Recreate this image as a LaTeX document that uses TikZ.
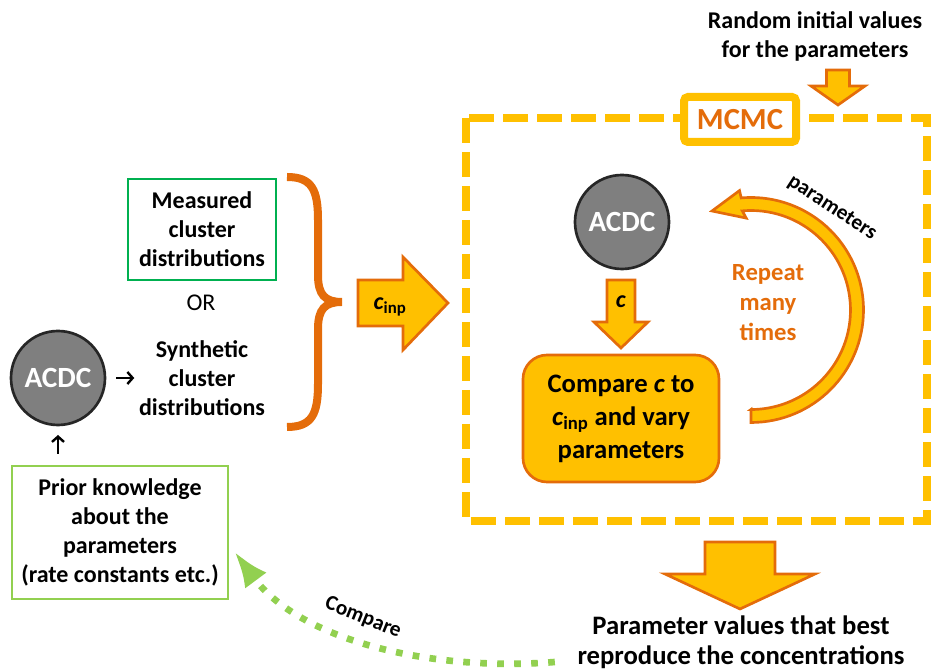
\documentclass[tikz,border=0pt]{standalone}
\usepackage{fontspec}
\setmainfont{Carlito}
\usetikzlibrary{arrows.meta, positioning}

\definecolor{mcmcyellow}{HTML}{FFC000}
\definecolor{darkorange}{HTML}{E46C0A}
\definecolor{measgreen}{HTML}{00B050}
\definecolor{priorgreen}{HTML}{92D050}
\definecolor{acdcgray}{HTML}{7F7F7F}
\definecolor{acdcborder}{HTML}{262626}

\begin{document}
\begin{tikzpicture}[x=0.75pt, y=0.75pt,
    txt/.style={font=\fontsize{18}{21.75}\selectfont\bfseries, align=center},
    acdc/.style={circle, draw=acdcborder, line width=2pt, fill=acdcgray, text=white,
      minimum size=70.5pt, inner sep=0pt, font=\fontsize{22}{26}\selectfont\bfseries},
    inbox/.style={txt, draw, line width=2pt, inner sep=0pt},
    blockarr/.style={fill=mcmcyellow, draw=darkorange, line width=2pt, line join=miter},
    smallarr/.style={-{Straight Barb[length=4pt, width=9pt]}, line width=1.8pt}]

  \useasboundingbox (0,0) rectangle (932,670);

  % MCMC frame
  \draw[mcmcyellow, line width=6pt, dash pattern=on 18.75pt off 6.75pt] (466,552) rectangle (927,149);
  \node[draw=mcmcyellow, fill=white, line width=6pt, rounded corners=3pt, minimum width=84pt,
    minimum height=33.75pt, text=darkorange, font=\fontsize{23}{27}\selectfont\bfseries] (mcmc) at (740,550.5) {MCMC};

  % initial values
  \node[txt] (init) at (815,634) {Random initial values\\for the parameters};
  \draw[blockarr] (826.5,600) -- (849.5,600) -- (849.5,584) -- (865,584) -- (838,565) -- (811,584) -- (826.5,584) -- cycle;

  % inside the loop
  \node[acdc] (acdcR) at (622,448) {ACDC};
  \draw[blockarr] (607,390) -- (635,390) -- (635,348) -- (648,348) -- (621,322) -- (594,348) -- (607,348) -- cycle;
  \node[txt] (cout) at (621,368) {\textit{c}};

  \node[txt, fill=mcmcyellow, draw=darkorange, line width=2pt, rounded corners=18pt,
    minimum width=147pt, minimum height=95.25pt, font=\fontsize{20}{24.75}\selectfont\bfseries]
    (compare) at (621,251.5) {Compare \textit{c} to\\\textit{c}\textsubscript{inp} and vary\\parameters};

  \draw[blockarr] (751,260.5) -- (751,247.5) arc[start angle=-90, end angle=95, radius=112.5]
    -- (739.5,479.4) -- (712,459) -- (746.2,451.9) -- (742.3,459.1)
    arc[start angle=95, end angle=-90, radius=99.5] -- cycle;
  \node[txt, text=darkorange, font=\fontsize{18.5}{22.5}\selectfont\bfseries] (repeat) at (768,367) {Repeat\\many\\times};
  \node[txt, rotate=-33, inner sep=1pt, font=\fontsize{16}{19}\selectfont\bfseries] (parlabel) at (832,462) {parameters};

  % input data
  \node[inbox, draw=measgreen, minimum width=111pt, minimum height=75.75pt] (measured) at (202,440.5) {Measured\\cluster\\distributions};
  \node[font=\fontsize{18}{21.75}\selectfont] (or) at (201,367) {OR};
  \node[txt] (synth) at (202,292) {Synthetic\\cluster\\distributions};
  \node[acdc] (acdcL) at (58,292) {ACDC};
  \node[inbox, draw=priorgreen, minimum width=162pt, minimum height=99.75pt] (prior) at (120,137.5)
    {Prior knowledge\\about the\\parameters\\(rate constants etc.)};

  \draw[smallarr] ([xshift=7.5pt]acdcL.east) -- (synth.west);
  \draw[smallarr] ([yshift=8pt]prior.north -| acdcL.south) -- ([yshift=-6.5pt]acdcL.south);

  % brace and c_inp
  \draw[darkorange, line width=6pt] (287,493) .. controls (312,493) and (318,480) .. (318,450) -- (318,395)
    .. controls (318,375) and (325,368) .. (342,368) .. controls (325,368) and (318,361) .. (318,341)
    -- (318,286) .. controls (318,256) and (312,243) .. (287,243);
  \draw[blockarr] (358,390) -- (403,390) -- (403,413) -- (448,367) -- (403,320) -- (403,344) -- (358,344) -- cycle;
  \node[txt] (cinp) at (390,363) {\textit{c}\textsubscript{inp}};

  % result
  \draw[blockarr] (705,128) -- (775,128) -- (775,96) -- (815,96) -- (740,61) -- (665,96) -- (705,96) -- cycle;
  \node[txt, font=\fontsize{20}{22.5}\selectfont\bfseries] (result) at (741,28) {Parameter values that best\\reproduce the concentrations};

  \draw[priorgreen, line width=5pt, dash pattern=on 5pt off 7.75pt, -{Latex[length=27pt, width=20pt]}]
    ([shift={(-18,-20)}]result.west) .. controls (430,-2) and (300,30) .. ([shift={(5,-19)}]prior.east);
  \node[txt, rotate=-22, font=\fontsize{16}{19}\selectfont\bfseries] (cmplabel) at (363,52) {Compare};

\end{tikzpicture}
\end{document}
